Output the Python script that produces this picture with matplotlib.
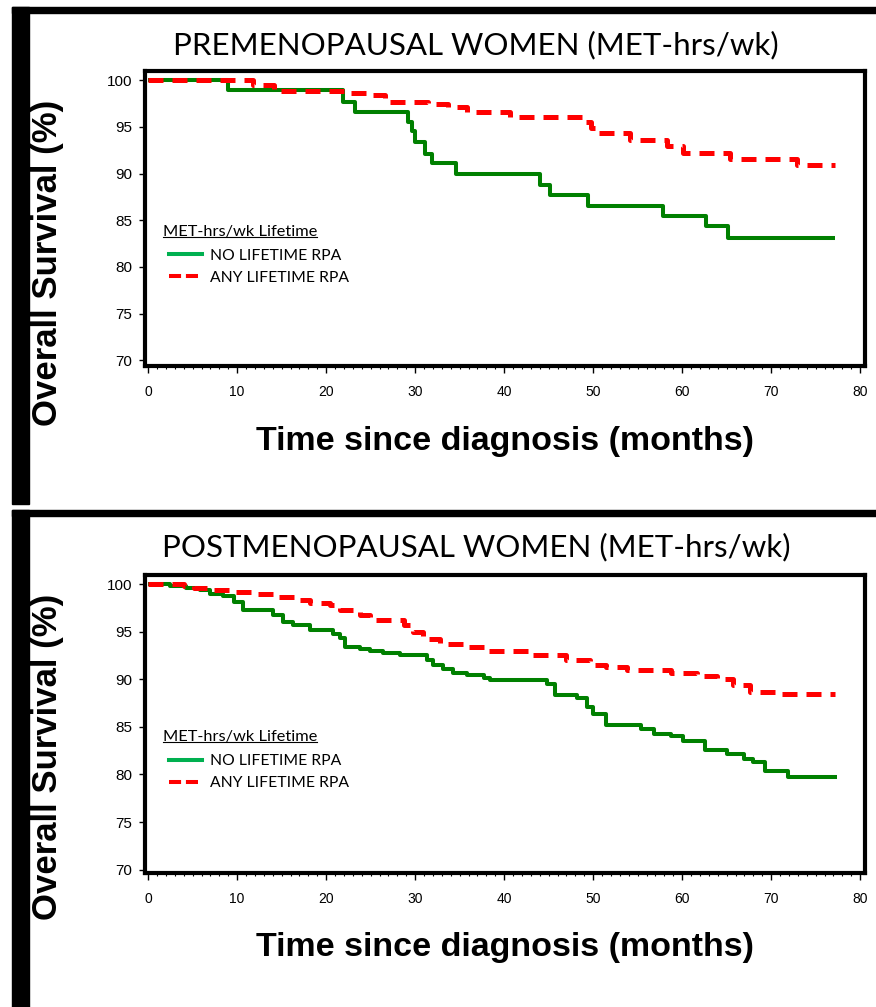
import matplotlib
matplotlib.use("Agg")
import matplotlib.pyplot as plt
from matplotlib.lines import Line2D
from matplotlib.patches import Rectangle
from matplotlib.ticker import MultipleLocator

# ---- data (months, % surviving) ----
pre_no_t = [0, 9.0, 21.9, 23.3, 29.2, 29.6, 30.0, 31.1, 31.9, 34.6, 44.0, 45.2, 49.4, 57.8, 62.7, 65.2, 77.2]
pre_no_s = [100, 98.9, 97.7, 96.6, 95.5, 94.5, 93.4, 92.1, 91.1, 89.9, 88.8, 87.7, 86.5, 85.5, 84.4, 83.1, 83.1]

pre_any_t = [0, 11.8, 14.1, 22.5, 24.9, 26.6, 31.5, 33.7, 35.8, 40.7, 49.1, 49.8, 50.4, 54.2, 58.3, 60.1, 65.4, 72.9, 77.2]
pre_any_s = [100, 99.5, 98.8, 98.6, 98.4, 97.7, 97.4, 97.1, 96.6, 96.1, 95.5, 94.9, 94.3, 93.6, 92.9, 92.2, 91.5, 90.9, 90.9]

post_no_t = [0, 2.5, 4.3, 5.8, 7.0, 8.4, 9.6, 10.7, 14.0, 15.2, 16.3, 18.2, 20.8, 21.6, 22.1, 23.8, 24.9,
             26.4, 28.3, 31.3, 32.0, 33.1, 34.3, 35.8, 37.7, 38.4, 44.8, 45.7, 48.2, 49.3, 50.0, 51.5,
             55.4, 56.8, 58.7, 60.1, 62.6, 65.0, 66.9, 68.0, 69.3, 71.9, 77.4]
post_no_s = [100, 99.8, 99.6, 99.4, 99.0, 98.7, 98.1, 97.3, 96.7, 96.0, 95.7, 95.2, 94.8, 94.3, 93.4, 93.2, 93.0,
             92.8, 92.5, 92.0, 91.5, 91.1, 90.7, 90.4, 90.1, 89.9, 89.5, 88.3, 88.0, 87.1, 86.4, 85.2,
             84.8, 84.3, 84.0, 83.5, 82.6, 82.1, 81.6, 81.3, 80.4, 79.7, 79.7]

post_any_t = [0, 4.0, 5.1, 7.0, 9.6, 12.2, 14.0, 16.7, 18.2, 20.4, 21.6, 23.8, 24.9, 28.7, 29.8, 30.9, 32.8,
              35.8, 37.7, 43.3, 47.0, 49.7, 51.5, 53.8, 58.7, 61.7, 63.9, 65.7, 67.6, 71.0, 77.2]
post_any_s = [100, 99.8, 99.6, 99.4, 99.2, 99.0, 98.6, 98.3, 98.0, 97.8, 97.3, 96.7, 96.2, 95.7, 95.0, 94.2, 93.7,
              93.4, 93.0, 92.5, 92.0, 91.5, 91.3, 91.0, 90.7, 90.3, 90.0, 89.4, 88.7, 88.4, 88.4]

titles = ["PREMENOPAUSAL WOMEN (MET-hrs/wk)", "POSTMENOPAUSAL WOMEN (MET-hrs/wk)"]
legend_title = "MET-hrs/wk Lifetime"
group_labels = ["NO LIFETIME RPA", "ANY LIFETIME RPA"]
x_ticks = [0, 10, 20, 30, 40, 50, 60, 70, 80]
y_ticks = [70, 75, 80, 85, 90, 95, 100]

W, H = 876, 1007
fig = plt.figure(figsize=(W / 100, H / 100), dpi=100)


def px_rect(x0, y0, x1, y1):
    # pixel box (top-left origin) -> figure fraction rect
    return [x0 / W, 1 - y1 / H, (x1 - x0) / W, (y1 - y0) / H]


def frame(y_top, y_bot):
    fig.patches.append(Rectangle((12 / W, 1 - y_bot / H), 17 / W, (y_bot - y_top) / H,
                                 transform=fig.transFigure, color="black", zorder=0))
    fig.patches.append(Rectangle((12 / W, 1 - (y_top + 6) / H), (W - 12) / W, 6 / H,
                                 transform=fig.transFigure, color="black", zorder=0))


def panel(rect, ylim, title, no_t, no_s, any_t, any_s, title_y, xlab_y, ylab_y):
    ax = fig.add_axes(rect)
    ax.step(no_t, no_s, where="post", color="#008000", lw=2.9, solid_capstyle="butt")
    ax.step(any_t, any_s, where="post", color="#ff0000", lw=3.6, dashes=(3.0, 1.8))
    ax.set_xlim(-0.35, 80.55)
    ax.set_ylim(*ylim)
    ax.set_xticks(x_ticks)
    ax.set_yticks(y_ticks)
    ax.xaxis.set_minor_locator(MultipleLocator(1))
    ax.tick_params(axis="x", which="major", length=5, width=1, pad=9,
                   labelsize=10, labelfontfamily="Liberation Sans")
    ax.tick_params(axis="x", which="minor", length=2.5, width=0.8)
    ax.tick_params(axis="y", which="major", length=4, width=1, pad=5,
                   labelsize=11, labelfontfamily="Liberation Sans")
    for sp in ax.spines.values():
        sp.set_linewidth(3)

    ax.text(0.46, title_y, title, transform=ax.transAxes, ha="center", va="center",
            fontsize=22.5, family="Lato")
    ax.set_ylabel("Overall Survival (%)", fontsize=25, fontweight="bold", family="Liberation Sans")
    ax.yaxis.set_label_coords(-0.112, ylab_y)
    ax.set_xlabel("Time since diagnosis (months)", fontsize=24.5, fontweight="bold", family="Liberation Sans")
    ax.xaxis.set_label_coords(0.5, xlab_y)

    t = ax.text(0.025, 0.455, legend_title, transform=ax.transAxes, ha="left", va="center",
                fontsize=11.8, family="Lato")
    handles = [Line2D([], [], color="#00b050", lw=2.9),
               Line2D([], [], color="#ff0000", lw=2.9, dashes=(3.0, 1.2))]
    ax.legend(handles, group_labels, loc="upper left", bbox_to_anchor=(0.018, 0.435),
              frameon=False, prop={"family": "Lato", "size": 11.3},
              handlelength=2.1, handletextpad=0.5, labelspacing=0.5, borderpad=0.2)
    return ax, t


frame(7, 504)
frame(510, 1007)

ax1, t1 = panel(px_rect(145, 71, 865, 366), (69.4, 100.97), titles[0],
                pre_no_t, pre_no_s, pre_any_t, pre_any_s, 1.088, -0.203, 0.35)
ax2, t2 = panel(px_rect(145, 575, 865, 873), (69.65, 100.95), titles[1],
                post_no_t, post_no_s, post_any_t, post_any_s, 1.094, -0.197, 0.39)

# underline the legend titles
fig.canvas.draw()
inv = fig.transFigure.inverted()
for t in (t1, t2):
    bb = t.get_window_extent()
    (x0, y0), (x1, _) = inv.transform([(bb.x0, bb.y0 + 2), (bb.x1, bb.y0 + 2)])
    fig.add_artist(Line2D([x0, x1], [y0, y0], transform=fig.transFigure, color="black", lw=0.8))

fig.savefig("out.png", dpi=100)
